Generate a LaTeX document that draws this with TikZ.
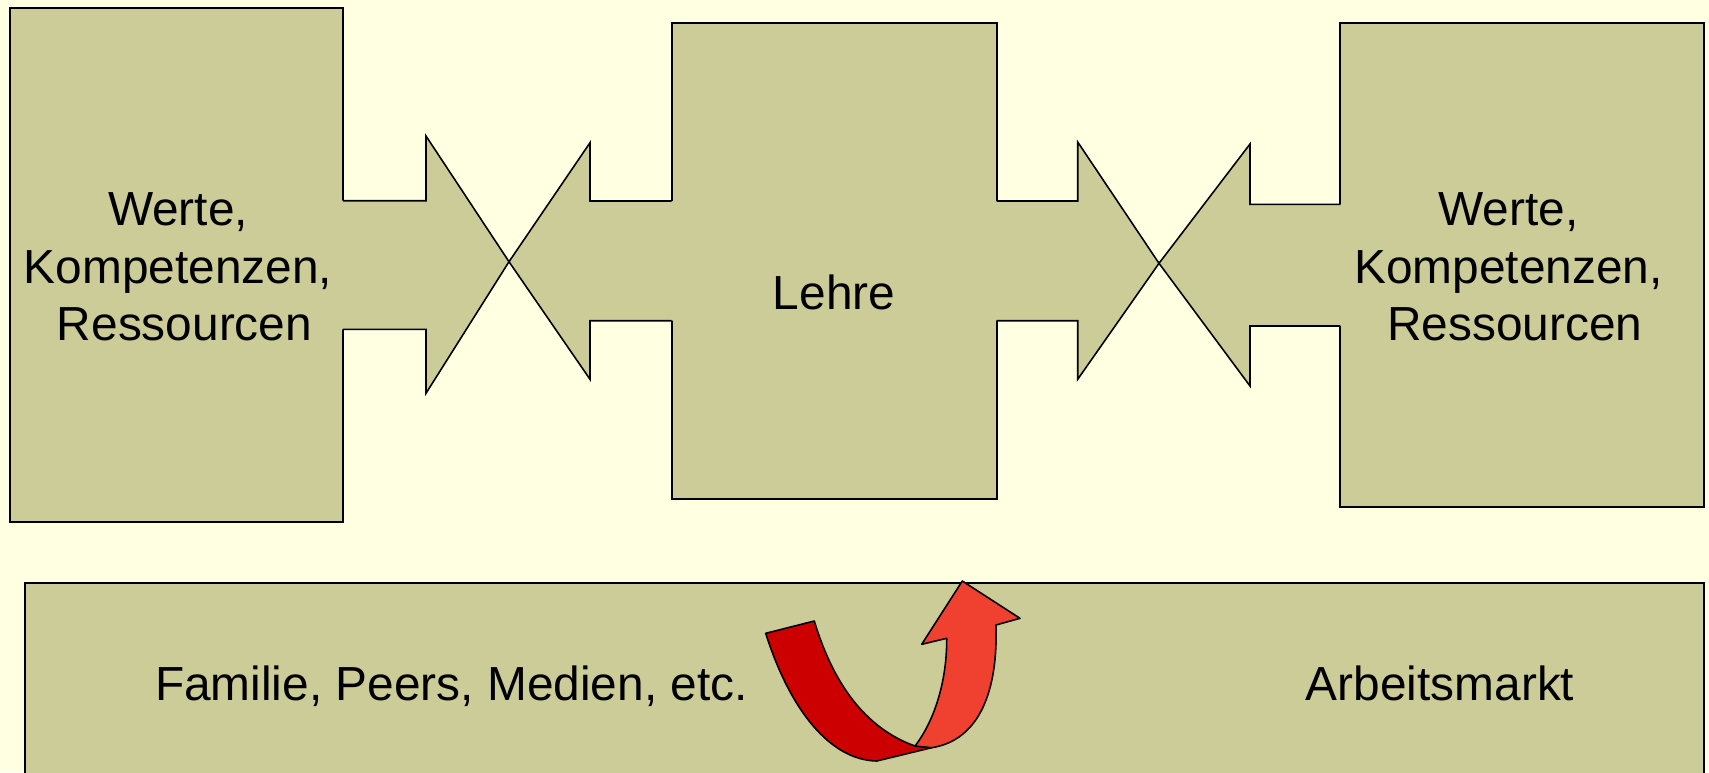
\documentclass[tikz,border=0pt]{standalone}
\usepackage{fontspec}
\setmainfont{Liberation Sans}
\definecolor{bgcol}{RGB}{255,255,225}
\definecolor{boxfill}{RGB}{204,204,153}
\definecolor{darkred}{RGB}{204,0,0}
\definecolor{lightred}{RGB}{240,64,48}
\tikzset{
  boxshape/.style={fill=boxfill, draw=black, line width=0.5pt},
  blkfill/.style={fill=boxfill},
  outl/.style={draw=black, line width=0.45pt, line join=miter},
  lbl/.style={font=\fontsize{13.6}{16.4}\selectfont, align=center, inner sep=0pt},
  curv/.style={draw=black, line width=0.45pt, line join=round}
}
\begin{document}
\begin{tikzpicture}[x=0.01cm, y=-0.01cm]
\useasboundingbox (0,0) rectangle (1709,772);
\fill[bgcol] (0,0) rectangle (1709,772);

% boxes
\draw[boxshape] (10,8) rectangle (343,522);
\draw[boxshape] (671.7,23.3) rectangle (996.7,499);
\draw[boxshape] (1340.3,23.3) rectangle (1703.7,507);
\draw[boxshape] (25,583.3) rectangle (1703.7,790);

% block arrows (left pair)
\fill[blkfill] (330,200.7) -- (426,200.7) -- (426,136) -- (509,261.7) -- (426,393.3) -- (426,329.3) -- (330,329.3) -- cycle;
\draw[outl] (343,200.7) -- (426,200.7) -- (426,136) -- (509,261.7) -- (426,393.3) -- (426,329.3) -- (343,329.3);
\fill[blkfill] (685,201) -- (590,201) -- (590,142.7) -- (509,261.7) -- (590,379.3) -- (590,320.7) -- (685,320.7) -- cycle;
\draw[outl] (671.7,201) -- (590,201) -- (590,142.7) -- (509,261.7) -- (590,379.3) -- (590,320.7) -- (671.7,320.7);

% block arrows (right pair)
\fill[blkfill] (985,201) -- (1077.7,201) -- (1077.7,142) -- (1159,263.3) -- (1077.7,379.3) -- (1077.7,320.7) -- (985,320.7) -- cycle;
\draw[outl] (996.7,201) -- (1077.7,201) -- (1077.7,142) -- (1159,263.3) -- (1077.7,379.3) -- (1077.7,320.7) -- (996.7,320.7);
\fill[blkfill] (1355,204.3) -- (1250,204.3) -- (1250,144) -- (1159,263.3) -- (1250,386) -- (1250,326) -- (1355,326) -- cycle;
\draw[outl] (1340.3,204.3) -- (1250,204.3) -- (1250,144) -- (1159,263.3) -- (1250,386) -- (1250,326) -- (1340.3,326);

% curved arrow
\coordinate (A) at (765.7,633.3);
\coordinate (B) at (814.3,621);
\coordinate (C) at (915,746);
\coordinate (D) at (931.7,747.7);
\coordinate (E) at (876.7,761);
\coordinate (F) at (946.7,638.3);
\coordinate (G) at (921.7,644.3);
\coordinate (H) at (962.3,581);
\coordinate (I) at (1020,618.3);
\coordinate (J) at (996,625);
\draw[curv, fill=darkred] (A) -- (B) .. controls (835,690) and (870,730) .. (C) -- (D) -- (E) .. controls (830,760) and (790,710) .. (A) -- cycle;
\draw[curv, fill=lightred] (C) .. controls (935,720) and (947,680) .. (F) -- (G) -- (H) -- (I) -- (J) .. controls (998,690) and (980,740) .. (D) -- cycle;

% labels
\node[lbl] (wl) at (178,267) {Werte,\\Kompetenzen,\\\hspace*{3.7pt}Ressourcen};
\node[lbl] (lehre) at (834,292) {Lehre};
\node[lbl] (wr) at (1508.5,267) {Werte,\\Kompetenzen,\\\hspace*{3.7pt}Ressourcen};
\node[lbl, anchor=base] (fam) at (451.4,700.8) {Familie, Peers, Medien, etc.};
\node[lbl, anchor=base] (arb) at (1440,700.8) {Arbeitsmarkt};
\end{tikzpicture}
\end{document}
